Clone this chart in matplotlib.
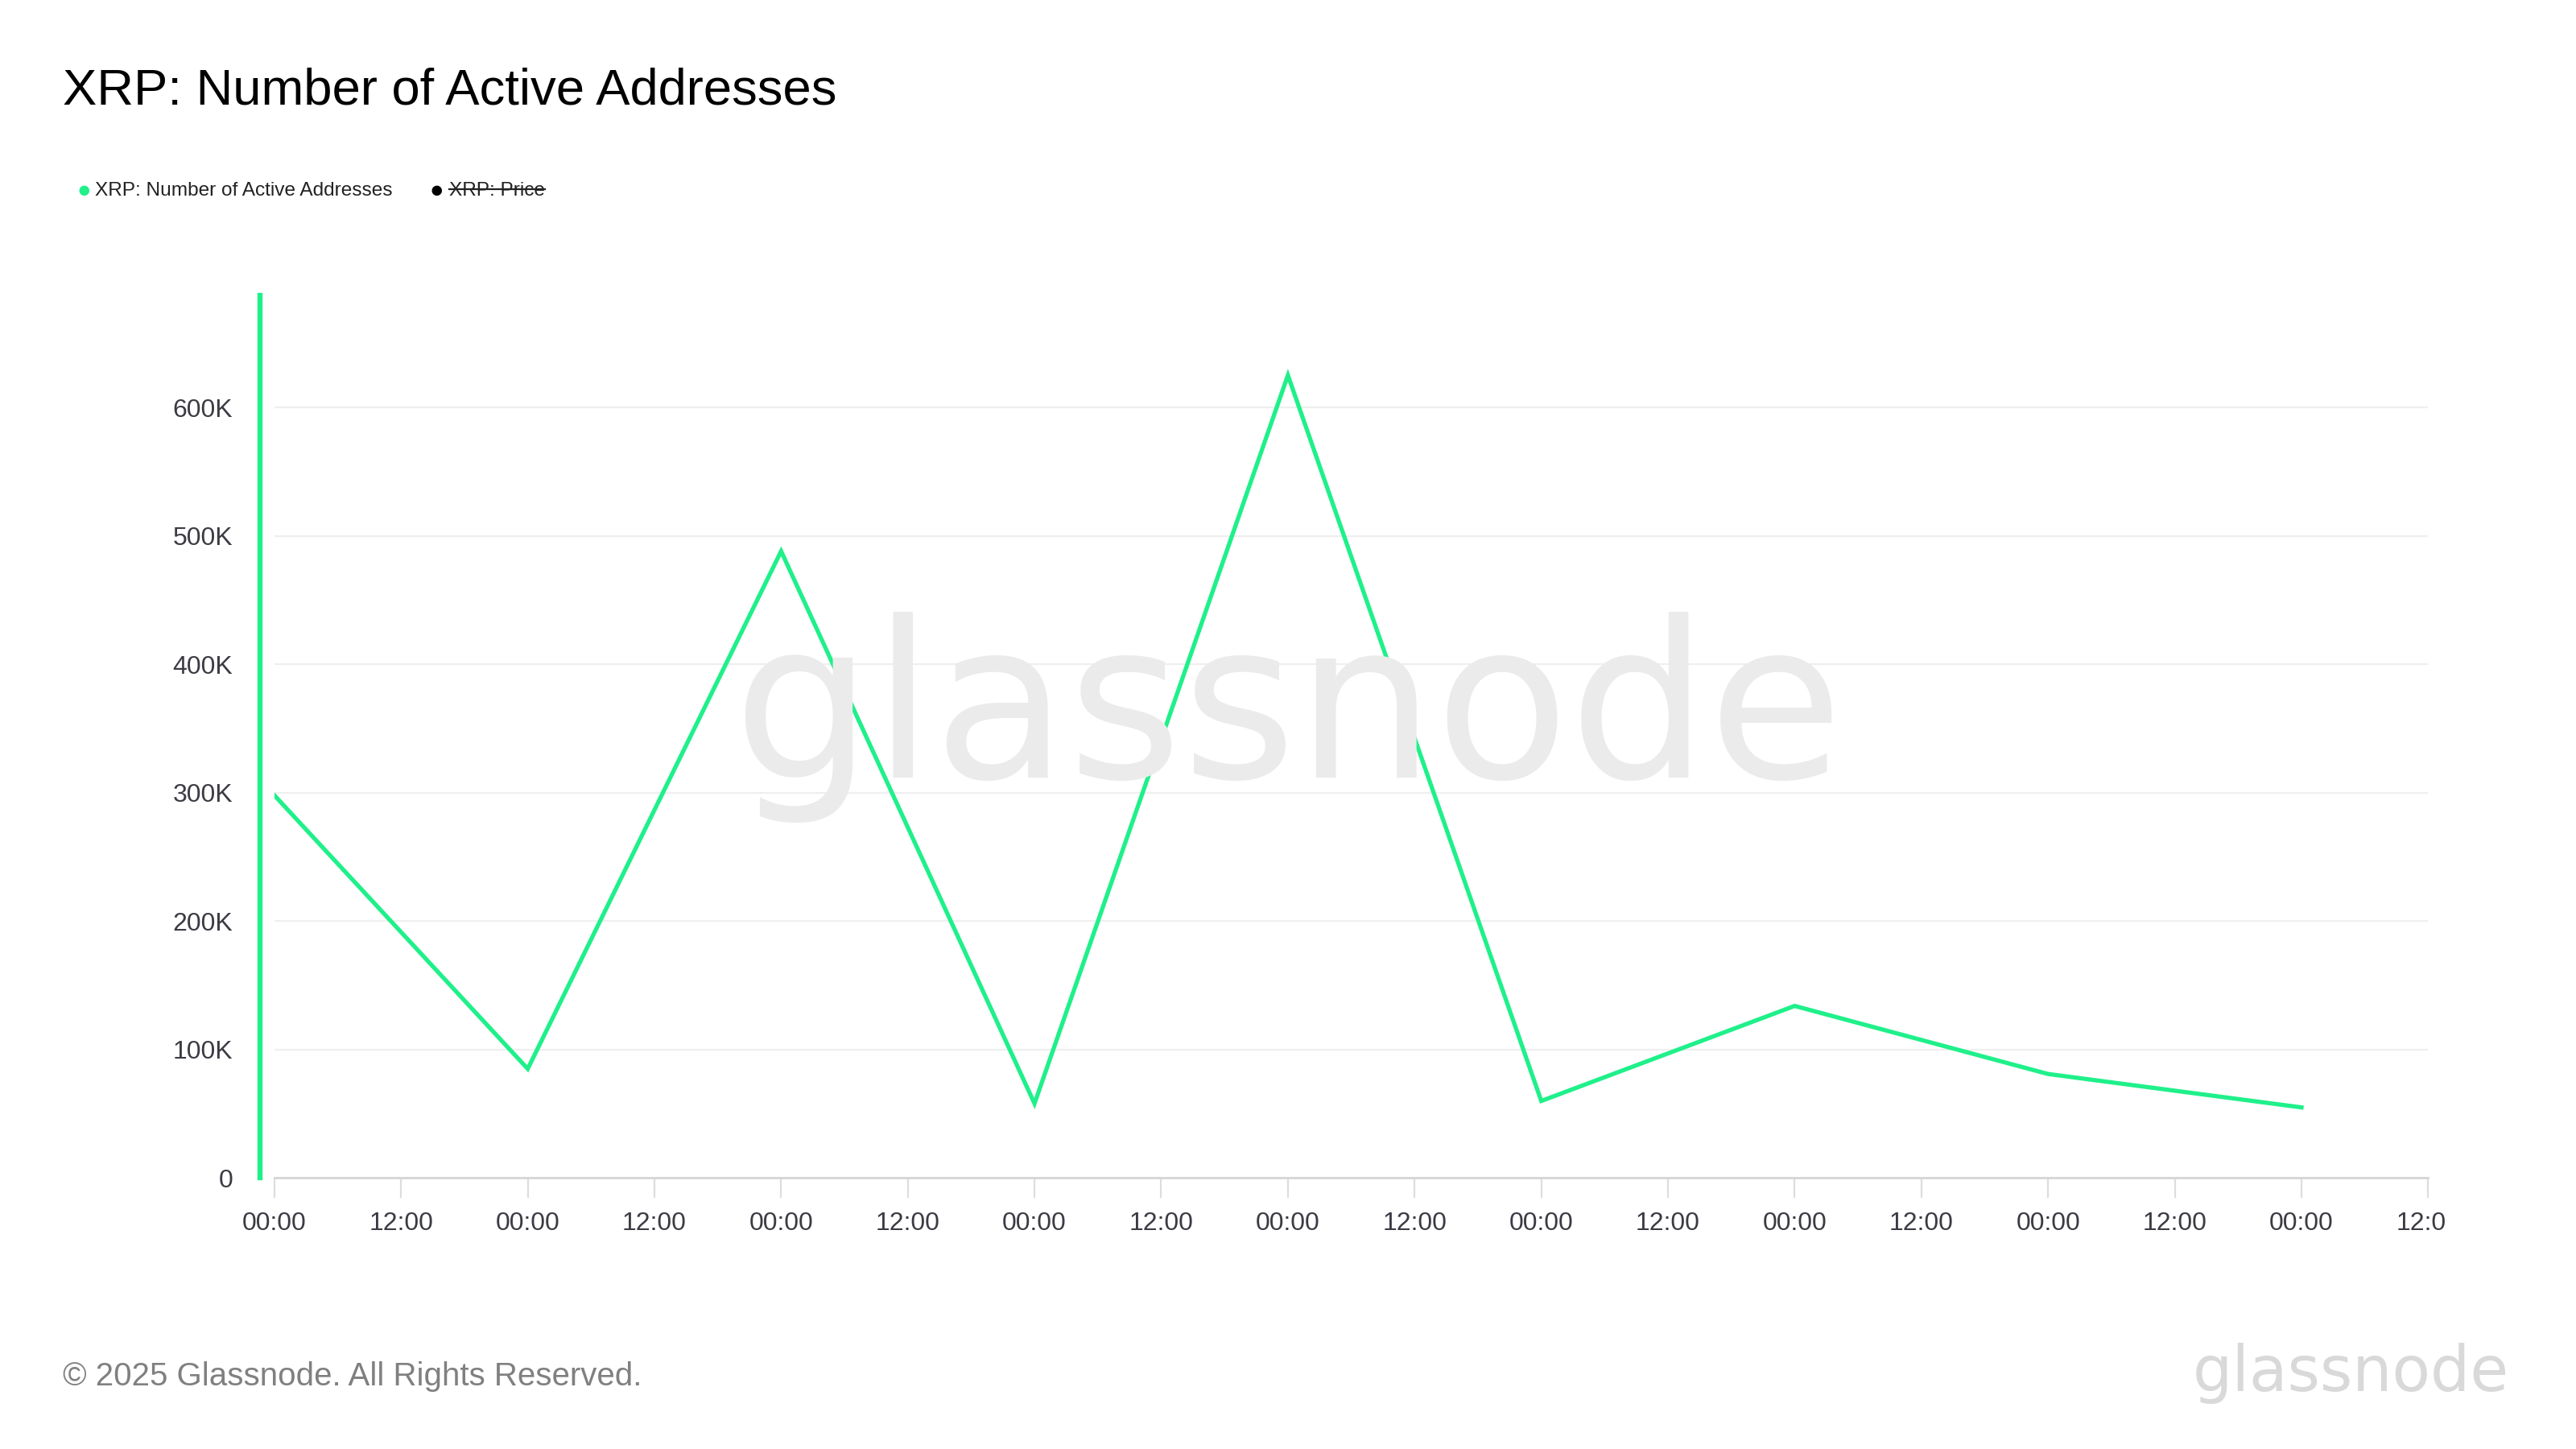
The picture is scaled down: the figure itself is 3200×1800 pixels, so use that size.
import matplotlib
matplotlib.use("Agg")
import matplotlib.pyplot as plt
from matplotlib.transforms import Bbox

plt.rcParams['font.family'] = ['Liberation Sans', 'DejaVu Sans']

days = [0, 1, 2, 3, 4, 5, 6, 7, 8]
active_addresses = [298000, 85000, 488000, 58000, 625000, 60000, 134000, 81000, 55000]

x_ticks = [0, 0.5, 1, 1.5, 2, 2.5, 3, 3.5, 4, 4.5, 5, 5.5, 6, 6.5, 7, 7.5, 8, 8.5]
x_tick_labels = ["00:00", "12:00"] * 9
y_ticks = [0, 100000, 200000, 300000, 400000, 500000, 600000]
y_tick_labels = ["0", "100K", "200K", "300K", "400K", "500K", "600K"]

green = "#1ff08a"
tick_color = "#3b3b43"

fig = plt.figure(figsize=(16, 9), dpi=200)
ax = fig.add_axes([0.1065, 0.187, 0.8361, 0.609])

ax.plot(days, active_addresses, color=green, lw=1.9, solid_joinstyle="miter", zorder=3)

ax.set_xlim(0, 8.5)
ax.set_ylim(0, 687000)
ax.set_xticks(x_ticks)
ax.set_xticklabels(x_tick_labels)
ax.set_yticks(y_ticks)
ax.set_yticklabels(y_tick_labels)

ax.grid(axis="y", color="#efefef", lw=0.8)
ax.set_axisbelow(True)
for s in ["top", "right"]:
    ax.spines[s].set_visible(False)
ax.spines["bottom"].set_color("#d6d6d6")
ax.spines["bottom"].set_linewidth(1.0)
ax.spines["left"].set_color(green)
ax.spines["left"].set_linewidth(2.3)
ax.spines["left"].set_position(("outward", 6.5))

ax.tick_params(axis="x", length=9, width=0.8, color="#dddddd", labelsize=11.5,
               labelcolor=tick_color, pad=6)
ax.tick_params(axis="y", length=0, labelsize=11.5, labelcolor=tick_color, pad=12)

# watermark
fig.text(0.5, 0.505, "glassnode", fontsize=98, color="#ebebeb", ha="center", va="center",
         family=["DejaVu Sans"], zorder=0)

fig.text(0.0245, 0.937, "XRP: Number of Active Addresses", fontsize=22.8, color="black",
         ha="left", va="center")

# legend
fig.text(0.0325, 0.8685, "\u25cf", fontsize=10.5, color=green, ha="center", va="center")
fig.text(0.037, 0.8685, "XRP: Number of Active Addresses", fontsize=8.8, color="#222222",
         ha="left", va="center")
fig.text(0.1695, 0.8685, "\u25cf", fontsize=10.5, color="black", ha="center", va="center")
price = fig.text(0.1745, 0.8685, "XRP: Price", fontsize=8.8, color="#222222",
                 ha="left", va="center")

fig.text(0.0245, 0.05, "\u00a9 2025 Glassnode. All Rights Reserved.", fontsize=14.5,
         color="#808080", ha="left", va="center")
fig.text(0.974, 0.052, "glassnode", fontsize=28, color="#d9d9d9", ha="right", va="center",
         family=["DejaVu Sans"])

fig.canvas.draw()
# strike through the hidden series label
bb = price.get_window_extent().transformed(fig.transFigure.inverted())
fig.add_artist(plt.Line2D([bb.x0, bb.x1], [0.8695, 0.8695], transform=fig.transFigure,
                          color="#222222", lw=0.8))

# last tick label is cut off at the chart edge
clip = Bbox.from_extents(0, 0, 0.9495 * 3200, 1800)
for lab in ax.get_xticklabels():
    lab.set_clip_box(clip)
    lab.set_clip_on(True)

fig.savefig("out.png", dpi=200, facecolor="white")
